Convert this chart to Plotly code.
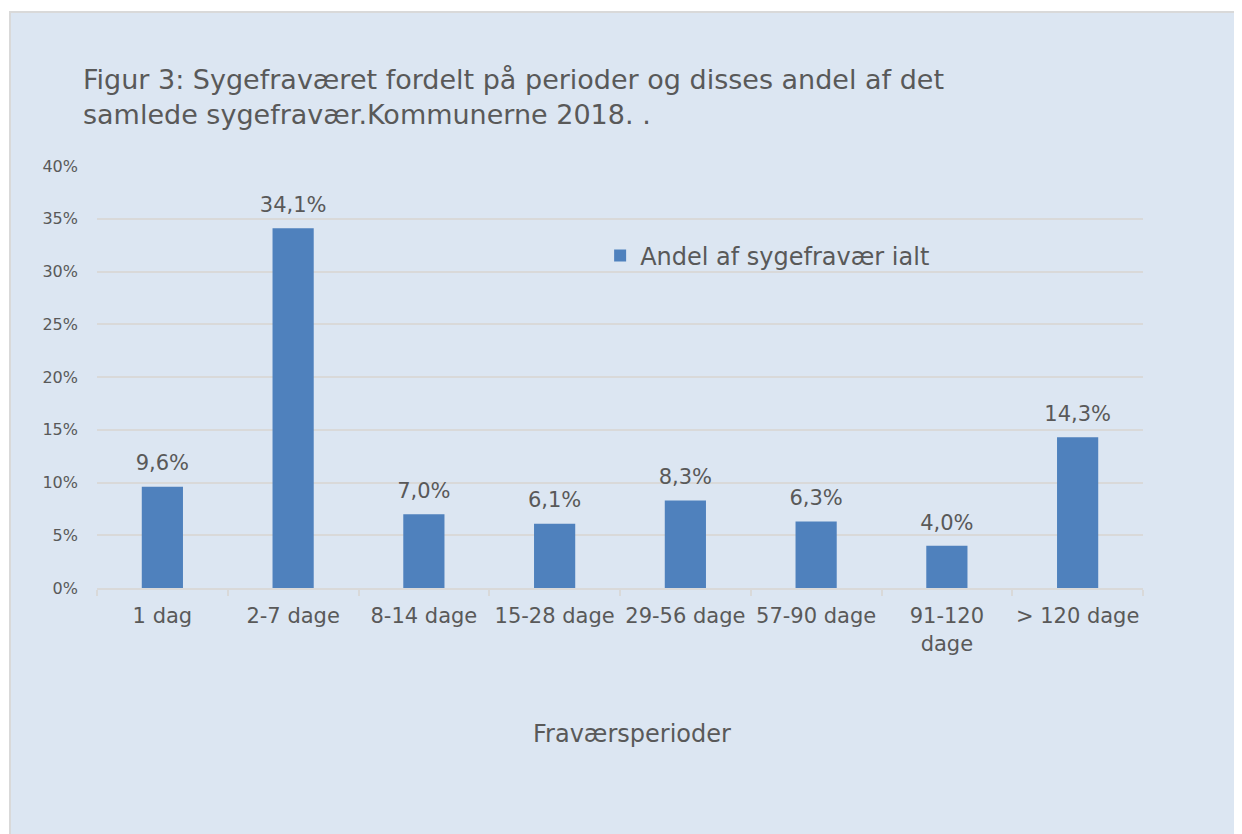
import plotly.graph_objects as go

# data
perioder = ['1 dag', '2-7 dage', '8-14 dage', '15-28 dage', '29-56 dage',
            '57-90 dage', '91-120 dage', '> 120 dage']
tick_labels = ['1 dag', '2-7 dage', '8-14 dage', '15-28 dage', '29-56 dage',
               '57-90 dage', '91-120<br>dage', '> 120 dage']
andel = [0.096, 0.341, 0.070, 0.061, 0.083, 0.063, 0.040, 0.143]
y_ticks = [0, 0.05, 0.10, 0.15, 0.20, 0.25, 0.30, 0.35, 0.40]

font_name = 'DejaVu Sans'
grey_text = '#595959'
grid = '#d9d9d9'
bar_color = '#4f81bd'
bg = '#dce6f2'

fig = go.Figure()
fig.add_trace(
    go.Bar(
        x=perioder,
        y=andel,
        name='Andel af sygefravær ialt',
        marker={'color': bar_color, 'line': {'width': 0}},
    )
)
# value labels, lifted a bit above the bars by an invisible marker
fig.add_trace(
    go.Scatter(
        x=perioder,
        y=andel,
        mode='markers+text',
        marker={'size': 16, 'opacity': 0},
        texttemplate='%{y:.1%}',
        textposition='top center',
        textfont={'size': 21, 'color': grey_text, 'family': font_name},
        showlegend=False,
        hoverinfo='skip',
        cliponaxis=False,
    )
)

# plot area (page pixels, body has 8px margin): left 97, right 1143, top 166, bottom 588
fig.update_layout(
    width=1242,
    height=834,
    margin={'l': 89, 'r': 107, 't': 158, 'b': 254},
    paper_bgcolor='white',
    plot_bgcolor=bg,
    separators=',.',
    font={'family': font_name, 'color': grey_text},
    bargap=0.685,
    showlegend=True,
    legend={
        'x': 0.481, 'y': 0.787, 'xanchor': 'left', 'yanchor': 'middle',
        'bgcolor': 'rgba(0,0,0,0)',
        'font': {'size': 24, 'color': grey_text, 'family': font_name},
        'itemwidth': 30,
    },
    title={
        'text': 'Figur 3: Sygefraværet fordelt på perioder og disses andel af det'
                '<br>samlede sygefravær.Kommunerne 2018. .',
        'xref': 'container', 'yref': 'container',
        'x': 75 / 1242, 'xanchor': 'left',
        'y': 1 - 81 / 834, 'yanchor': 'top',
        'font': {'size': 27, 'color': grey_text, 'family': font_name},
    },
    shapes=[
        # light blue chart background with grey border
        {
            'type': 'rect', 'xref': 'paper', 'yref': 'paper',
            'x0': (2 - 89) / 1046, 'x1': (1260 - 89) / 1046,
            'y0': (580 - 850) / 422, 'y1': (580 - 4) / 422,
            'fillcolor': bg, 'line': {'color': '#d9d9d9', 'width': 2},
            'layer': 'below',
        },
    ],
    annotations=[
        {
            'text': 'Fraværsperioder', 'xref': 'paper', 'yref': 'paper',
            'x': (632 - 97) / 1046, 'y': (588 - 734) / 422,
            'xanchor': 'center', 'yanchor': 'middle',
            'showarrow': False,
            'font': {'size': 24, 'color': grey_text, 'family': font_name},
        },
    ],
)

fig.update_xaxes(
    tickvals=perioder,
    ticktext=tick_labels,
    tickangle=0,
    tickson='boundaries',
    ticks='outside',
    ticklen=6,
    tickcolor=grid,
    tickwidth=2,
    showline=True,
    linecolor=grid,
    linewidth=2,
    showgrid=False,
    tickfont={'size': 21, 'color': grey_text, 'family': font_name},
    ticklabelstandoff=8,
)
fig.update_yaxes(
    range=[0, 0.40],
    tickvals=y_ticks,
    tickformat='.0%',
    showgrid=True,
    gridcolor=grid,
    gridwidth=2,
    zeroline=False,
    showline=False,
    tickfont={'size': 16, 'color': grey_text, 'family': font_name},
    ticklabelstandoff=18,
)

fig.write_html('out.html')
